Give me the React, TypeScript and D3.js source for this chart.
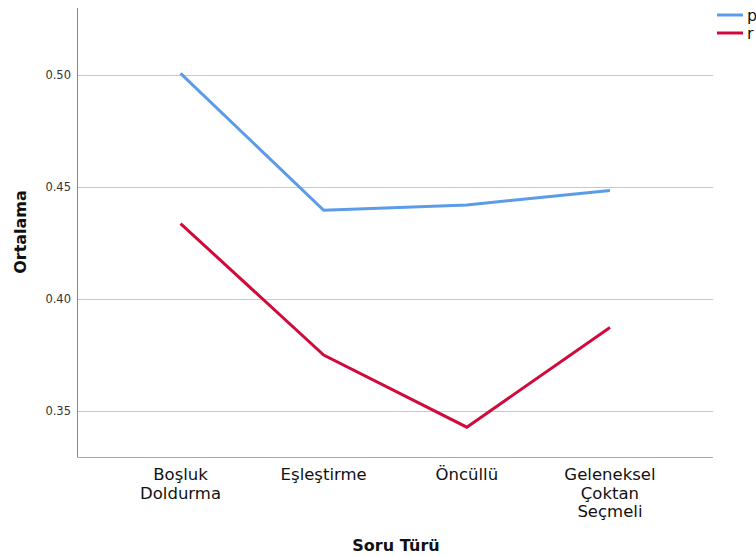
import React from "react";
import * as d3 from "d3";

const categories = [["Boşluk", "Doldurma"], ["Eşleştirme"], ["Öncüllü"], ["Geleneksel", "Çoktan", "Seçmeli"]];
const categoryKeys = ["Boşluk Doldurma", "Eşleştirme", "Öncüllü", "Geleneksel Çoktan Seçmeli"];
const seriesP = [0.5006, 0.4396, 0.4420, 0.4484];
const seriesR = [0.4337, 0.3751, 0.3430, 0.3874];
const yTicks = [0.35, 0.40, 0.45, 0.50];
const seriesNames = ["p", "r"];
const colors = ["#5b9be8", "#d20a3c"];

const W = 756, H = 557;
const left = 77.5, right = 713, top = 8, bottom = 457.5;

export default function App() {
  const x = d3.scalePoint<string>().domain(categoryKeys).range([left, right]).padding(0.72);
  const y = d3.scaleLinear().domain([0.3295, 0.5297]).range([bottom, top]);
  const line = d3.line<number>().x((_, i) => x(categoryKeys[i])!).y(d => y(d));
  const font = "'DejaVu Sans', sans-serif";
  return (
    <svg width={W} height={H} style={{ position: "absolute", left: 0, top: 0, background: "#fff" }} fontFamily={font}>
      {yTicks.map(t => (
        <g key={t}>
          <line x1={left} x2={right} y1={Math.round(y(t)) + 0.5} y2={Math.round(y(t)) + 0.5} stroke="#c8c8c8" strokeWidth={1} />
          <text x={71} y={y(t)} dy="0.35em" textAnchor="end" fontSize={11.5} fill="#333">{t.toFixed(2)}</text>
        </g>
      ))}
      <line x1={left} x2={left} y1={top} y2={bottom} stroke="#888" strokeWidth={1} />
      <line x1={left} x2={right} y1={bottom} y2={bottom} stroke="#aaa" strokeWidth={1} />
      {[seriesP, seriesR].map((s, i) => (
        <path key={i} d={line(s)!} fill="none" stroke={colors[i]} strokeWidth={3} />
      ))}
      {categories.map((lines, i) => (
        <text key={i} x={x(categoryKeys[i])} y={480} textAnchor="middle" fontSize={16.5} fill="#111">
          {lines.map((l, j) => (
            <tspan key={j} x={x(categoryKeys[i])} y={480 + j * 18.5}>{l}</tspan>
          ))}
        </text>
      ))}
      <text x={396} y={551} textAnchor="middle" fontSize={16} fontWeight="bold" fill="#111">Soru Türü</text>
      <text transform={`translate(26,${232}) rotate(-90)`} textAnchor="middle" fontSize={16} fontWeight="bold" fill="#111">Ortalama</text>
      {seriesNames.map((n, i) => (
        <g key={n}>
          <line x1={717} x2={743} y1={15 + i * 18} y2={15 + i * 18} stroke={colors[i]} strokeWidth={3} />
          <text x={747} y={15 + i * 18} dy="0.35em" fontSize={16} fill="#111">{n}</text>
        </g>
      ))}
    </svg>
  );
}
